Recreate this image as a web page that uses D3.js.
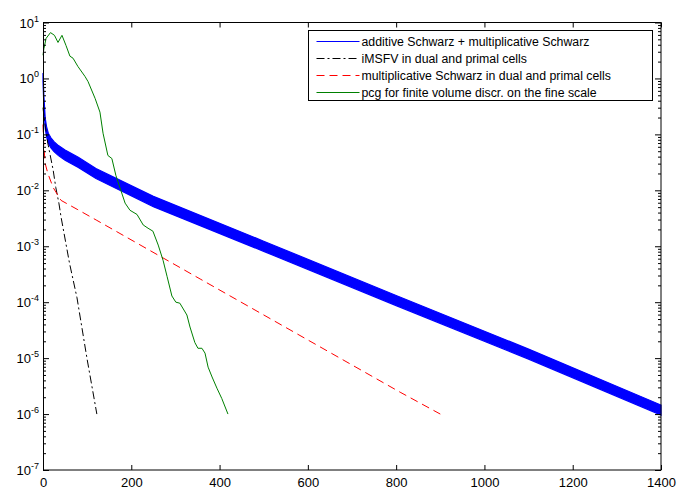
<!DOCTYPE html>
<html>
<head>
<meta charset="utf-8">
<script src="https://cdn.jsdelivr.net/npm/d3@7"></script>
<style>
  body { margin: 0; background: #fff; }
  svg { display: block; font-family: "Liberation Sans", Arial, sans-serif; }
</style>
</head>
<body>
<svg id="chart" width="678" height="495"></svg>
<script>
const width = 678, height = 495;
const margin = {top: 22.5, right: 17, bottom: 25, left: 43};

// tick labels
const xTicks = [0, 200, 400, 600, 800, 1000, 1200, 1400];
const yExps = [-7, -6, -5, -4, -3, -2, -1, 0, 1];

// legend
const seriesNames = [
    "additive Schwarz + multiplicative Schwarz",
    "iMSFV in dual and primal cells",
    "multiplicative Schwarz in dual and primal cells",
    "pcg for finite volume discr. on the fine scale"
];

// additive Schwarz + multiplicative Schwarz (thick oscillating band: upper / lower envelope)
const addX  = [0, 2, 5, 8, 12, 18, 25, 35, 50, 80, 120, 250, 500, 800, 1100, 1400];
const addHi = [1.25, 0.49, 0.195, 0.138, 0.105, 0.087, 0.074, 0.063, 0.0525, 0.039, 0.0246, 0.0078, 0.00123, 1.32e-4, 1.45e-5, 1.45e-6];
const addLo = [0.9, 0.32, 0.128, 0.091, 0.069, 0.0575, 0.049, 0.0417, 0.0346, 0.0257, 0.0162, 0.0051, 8.1e-4, 8.7e-5, 9.6e-6, 9.6e-7];

// iMSFV in dual and primal cells
const imsfvX = [0, 4, 11, 23, 29, 36, 41, 60, 77, 100, 122];
const imsfvY = [0.3, 0.16, 0.069, 0.023, 0.0112, 0.0059, 0.0033, 5e-4, 1.2e-4, 9.5e-6, 1.0e-6];

// multiplicative Schwarz in dual and primal cells
const multX = [0, 2, 5, 11, 23, 41, 79, 122, 356, 809, 900];
const multY = [0.15, 0.06, 0.03, 0.02, 0.0112, 0.0066, 0.0045, 0.0029, 2.6e-4, 2.46e-6, 1.0e-6];

// pcg for finite volume discr. on the fine scale
const pcgX = [0, 2, 7, 17, 26, 34, 43, 52, 61, 68, 79, 95, 102, 118, 129, 136, 147, 156, 165, 186, 197, 213, 227, 238, 249, 261, 272, 281, 292, 301, 310, 326, 333, 344, 351, 360, 367, 374, 383, 394, 405, 419];
const pcgY = [2.6, 3.4, 5.2, 6.6, 5.9, 4.4, 5.9, 3.9, 2.5, 2.3, 1.64, 1.09, 0.88, 0.44, 0.25, 0.105, 0.042, 0.037, 0.0186, 0.0059, 0.0044, 0.0037, 0.0024, 0.0021, 0.00186, 0.00105, 5.6e-4, 2.9e-4, 1.29e-4, 1.0e-4, 9.6e-5, 5.9e-5, 3.6e-5, 1.9e-5, 1.5e-5, 1.5e-5, 1.23e-5, 6.9e-6, 4.6e-6, 2.9e-6, 1.9e-6, 1.0e-6];

const colors = ["#0000ff", "#000000", "#ff0000", "#008000"];
const dashes = [null, "8,3,2,3", "8,5", null];

const svg = d3.select("#chart");

const x = d3.scaleLinear()
    .domain([0, 1400])
    .range([margin.left, width - margin.right]);

const y = d3.scaleLog()
    .domain([1e-7, 10])
    .range([height - margin.bottom, margin.top]);

const plot = svg.append("g");

// band for additive Schwarz
const band = addX.map((v, i) => ({x: v, hi: addHi[i], lo: addLo[i]}));
plot.append("path")
    .datum(band)
    .attr("d", d3.area().x(d => x(d.x)).y0(d => y(d.lo)).y1(d => y(d.hi)))
    .attr("fill", colors[0])
    .attr("stroke", colors[0])
    .attr("stroke-width", 1.2);

const line = d3.line().x(d => x(d[0])).y(d => y(d[1]));

[[imsfvX, imsfvY, 1], [multX, multY, 2], [pcgX, pcgY, 3]].forEach(([xs, ys, k]) => {
    plot.append("path")
        .datum(xs.map((v, i) => [v, ys[i]]))
        .attr("d", line)
        .attr("fill", "none")
        .attr("stroke", colors[k])
        .attr("stroke-width", 1)
        .attr("stroke-dasharray", dashes[k]);
});

// axes box
const x0 = margin.left, x1 = width - margin.right;
const y0 = height - margin.bottom, y1 = margin.top;

svg.append("g")
    .attr("transform", `translate(0,${y0})`)
    .call(d3.axisBottom(x).tickValues(xTicks).tickSize(-5).tickPadding(8).tickFormat(d3.format("d")))
    .call(g => g.select(".domain").remove())
    .call(g => g.selectAll("text").attr("font-size", 13).attr("fill", "#000").attr("font-family", null));

svg.append("g")
    .attr("transform", `translate(0,${y1})`)
    .call(d3.axisTop(x).tickValues(xTicks).tickSize(-5).tickFormat(""))
    .call(g => g.select(".domain").remove());

const majors = yExps.map(e => Math.pow(10, e));
const minors = [];
yExps.slice(0, -1).forEach(e => {
    for (let m = 2; m <= 9; m++) minors.push(m * Math.pow(10, e));
});

svg.append("g")
    .attr("transform", `translate(${x0},0)`)
    .call(d3.axisLeft(y).tickValues(majors).tickSize(-6).tickFormat(""))
    .call(g => g.select(".domain").remove());
svg.append("g")
    .attr("transform", `translate(${x0},0)`)
    .call(d3.axisLeft(y).tickValues(minors).tickSize(-3).tickFormat(""))
    .call(g => g.select(".domain").remove());
svg.append("g")
    .attr("transform", `translate(${x1},0)`)
    .call(d3.axisRight(y).tickValues(majors).tickSize(-6).tickFormat(""))
    .call(g => g.select(".domain").remove());
svg.append("g")
    .attr("transform", `translate(${x1},0)`)
    .call(d3.axisRight(y).tickValues(minors).tickSize(-3).tickFormat(""))
    .call(g => g.select(".domain").remove());

// y labels 10^e
const ylab = svg.append("g").attr("font-size", 13).attr("fill", "#000");
yExps.forEach(e => {
    const t = ylab.append("text")
        .attr("x", x0 - 4)
        .attr("y", y(Math.pow(10, e)) + 5)
        .attr("text-anchor", "end");
    t.append("tspan").text("10");
    t.append("tspan").attr("dy", -6).attr("font-size", 9).text(e);
});

svg.append("rect")
    .attr("x", x0 + 0.5).attr("y", y1)
    .attr("width", x1 - x0 - 0.5).attr("height", y0 - y1)
    .attr("fill", "none")
    .attr("stroke", "#000")
    .attr("stroke-width", 1);

// legend
const lg = svg.append("g").attr("transform", "translate(308.5,30.5)");
lg.append("rect")
    .attr("width", 344).attr("height", 70)
    .attr("fill", "#fff")
    .attr("stroke", "#000");
seriesNames.forEach((name, i) => {
    const ry = 11 + i * 17;
    lg.append("line")
        .attr("x1", 8).attr("x2", 51)
        .attr("y1", ry).attr("y2", ry)
        .attr("stroke", colors[i])
        .attr("stroke-width", 1)
        .attr("stroke-dasharray", dashes[i]);
    lg.append("text")
        .attr("x", 53).attr("y", ry + 4.5)
        .attr("font-size", 12.3)
        .attr("fill", "#000")
        .text(name);
});
</script>
</body>
</html>
